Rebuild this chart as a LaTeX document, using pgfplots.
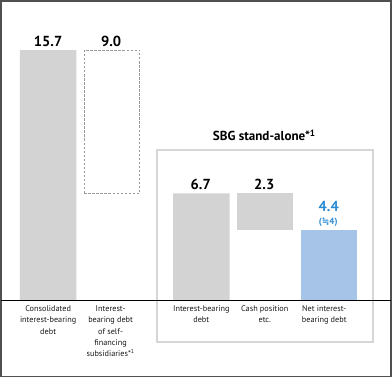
\documentclass[border=0pt]{standalone}
\usepackage{fontspec}
\setmainfont{PT Sans}
\newfontfamily\symfont{DejaVu Sans}
\usepackage{pgfplots}
\pgfplotsset{compat=1.18}
\definecolor{bargray}{HTML}{D3D3D3}
\definecolor{barblue}{HTML}{A6C4E8}
\definecolor{txtblue}{HTML}{2A8AD4}
\definecolor{boxgray}{HTML}{D6D6D6}
\definecolor{framegray}{HTML}{505050}
\definecolor{dashgray}{HTML}{9A9A9A}
\begin{document}
\begin{tikzpicture}
\begin{axis}[
  width=392bp, height=380bp, scale only axis,
  xmin=0, xmax=392, ymin=-5.0, ymax=19.05,
  axis lines=none, clip=false,
]
\draw[framegray, line width=1.5bp] (axis cs:2,18.8) rectangle (axis cs:389.5,-4.81);
\draw[boxgray, line width=2bp] (axis cs:157,9.43) rectangle (axis cs:371,-2.66);
\addplot[ybar, bar width=56, bar shift=0pt, fill=bargray, draw=none] coordinates {(49,15.7) (201,6.7)};
\addplot[ybar, bar width=56, bar shift=0pt, fill=barblue, draw=none] coordinates {(328,4.4)};
\addplot[draw=dashgray, fill=white, line width=0.8bp, dash pattern=on 2.5bp off 1.5bp, mark=none] coordinates {(85,6.7) (85,15.7) (140,15.7) (140,6.7)} -- cycle;
\addplot[draw=none, fill=bargray, mark=none] coordinates {(236,4.4) (236,6.7) (292,6.7) (292,4.4)} -- cycle;
\draw[black, line width=1bp] (axis cs:2,0) -- (axis cs:389.5,0);
% value labels
\node[font=\fontsize{14.5}{16}\selectfont\bfseries, anchor=base] at (axis cs:49,15.95) {15.7};
\node[font=\fontsize{14.5}{16}\selectfont\bfseries, anchor=base] at (axis cs:111.5,15.95) {9.0};
\node[font=\fontsize{14.5}{16}\selectfont\bfseries, anchor=base] at (axis cs:200.5,6.93) {6.7};
\node[font=\fontsize{14.5}{16}\selectfont\bfseries, anchor=base] at (axis cs:263.5,6.93) {2.3};
\node[font=\fontsize{14.5}{16}\selectfont\bfseries, anchor=base, text=txtblue] at (axis cs:327.5,5.54) {4.4};
\node[font=\fontsize{9}{10}\selectfont\bfseries, anchor=base, text=txtblue] at (axis cs:327,4.75) {({\symfont ≒}4)};
\node[font=\fontsize{13}{15}\selectfont\bfseries, anchor=base] at (axis cs:263.5,10.02) {SBG stand-alone*\textsuperscript{1}};
% category labels
\begin{scope}[every node/.style={font=\fontsize{8.2}{11.3}\selectfont, anchor=north, inner sep=0pt, align=center, text=black!90}]
\node at (axis cs:49,-0.33) {Consolidated\\interest-bearing\\debt};
\node at (axis cs:111,-0.33) {Interest-\\bearing debt\\of self-\\financing\\subsidiaries*\textsuperscript{1}};
\node at (axis cs:201,-0.33) {Interest-bearing\\debt};
\node at (axis cs:264,-0.33) {Cash position\\etc.};
\node at (axis cs:323,-0.33) {Net interest-\\bearing debt};
\end{scope}
\end{axis}
\end{tikzpicture}
\end{document}
